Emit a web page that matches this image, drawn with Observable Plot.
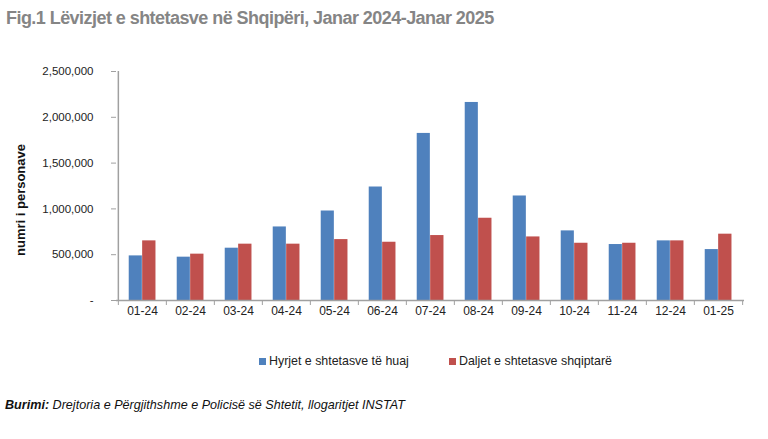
<!DOCTYPE html>
<html>
<head>
<meta charset="utf-8">
<script src="https://cdn.jsdelivr.net/npm/d3@7"></script>
<script src="https://cdn.jsdelivr.net/npm/@observablehq/plot@0.6"></script>
<style>
  html, body { margin: 0; padding: 0; background: #fff; }
  body { width: 768px; height: 439px; position: relative; overflow: hidden; font-family: "Liberation Sans", Arial, sans-serif; }
  #title { position: absolute; left: 6px; top: 8px; font-size: 18px; font-weight: bold; color: #858585; letter-spacing: -0.55px; white-space: nowrap; }
  #chart { position: absolute; left: 0; top: 50px; z-index: 1; }
  #ylabel { position: absolute; left: 20px; top: 200px; z-index: 2; transform: translate(-50%, -50%) rotate(-90deg); font-size: 13px; font-weight: bold; color: #111; white-space: nowrap; }
  #legend { position: absolute; top: 354px; left: 0; width: 768px; font-size: 12.4px; color: #222; }
  .item { position: absolute; white-space: nowrap; display: flex; align-items: center; }
  .sw { width: 7px; height: 7px; margin-right: 3px; }
  #caption { position: absolute; left: 5px; top: 398px; font-size: 12.6px; font-style: italic; color: #111; white-space: nowrap; }
</style>
</head>
<body>
<div id="title"></div>
<div id="ylabel"></div>
<div id="chart"></div>
<div id="legend"></div>
<div id="caption"><b>Burimi:</b> Drejtoria e Përgjithshme e Policisë së Shtetit, llogaritjet INSTAT</div>
<script>
// Monthly movements of citizens, January 2024 – January 2025
const titleText = "Fig.1 Lëvizjet e shtetasve në Shqipëri, Janar 2024-Janar 2025";
const yLabel = "numri i personave";
const months = ["01-24", "02-24", "03-24", "04-24", "05-24", "06-24", "07-24", "08-24", "09-24", "10-24", "11-24", "12-24", "01-25"];
const seriesNames = ["Hyrjet e shtetasve të huaj", "Daljet e shtetasve shqiptarë"];
const seriesColors = ["#4f81bd", "#c0504d"];
// entries of foreign citizens
const hyrjet = [487000, 473000, 571000, 803000, 977000, 1239000, 1824000, 2162000, 1141000, 760000, 611000, 651000, 556000];
// exits of Albanian citizens
const daljet = [651000, 506000, 615000, 615000, 665000, 636000, 709000, 898000, 694000, 625000, 625000, 651000, 724000];
const yTicks = [0, 500000, 1000000, 1500000, 2000000, 2500000];

document.getElementById("title").textContent = titleText;
document.getElementById("ylabel").textContent = yLabel;

const width = 768, height = 290;
const marginLeft = 116, marginRight = 24, marginTop = 21, marginBottom = 40;
const step = (width - marginLeft - marginRight) / months.length;
const axisColor = "#a0a0a0";

const rowsH = months.map((m, i) => ({month: m, series: seriesNames[0], value: hyrjet[i]}));
const rowsD = months.map((m, i) => ({month: m, series: seriesNames[1], value: daljet[i]}));

const fmt = d3.format(",");

const chart = Plot.plot({
  width, height, marginLeft, marginRight, marginTop, marginBottom,
  style: {fontFamily: "Liberation Sans, Arial, sans-serif", color: "#222", background: "transparent"},
  x: {domain: months, padding: 0, axis: null},
  y: {domain: [0, 2500000], axis: null},
  color: {domain: seriesNames, range: seriesColors},
  marks: [
    Plot.barY(rowsH, {x: "month", y: "value", fill: "series", insetLeft: step * 0.222, insetRight: step * 0.5}),
    Plot.barY(rowsD, {x: "month", y: "value", fill: "series", insetLeft: step * 0.5, insetRight: step * 0.218}),
    // y axis
    Plot.ruleX([months[0]], {x: d => d, y1: 0, y2: 2500000, dx: -step / 2, stroke: axisColor, strokeWidth: 1.5}),
    Plot.axisY({ticks: yTicks, tickSize: 5, tickPadding: 18, fontSize: 11.5, stroke: axisColor, fill: "#222",
      tickFormat: d => d === 0 ? "-" : fmt(d), label: null}),
    // x axis
    Plot.ruleY([0], {stroke: axisColor, strokeWidth: 1.5}),
    Plot.axisX({ticks: months, tickSize: 5, tickFormat: () => "", dx: -step / 2, stroke: axisColor, label: null}),
    Plot.axisX({ticks: [months[months.length - 1]], tickSize: 5, tickFormat: () => "", dx: step / 2, stroke: axisColor, label: null}),
    Plot.axisX({ticks: months, tickSize: 0, tickPadding: 6, fontSize: 12, fill: "#222", label: null})
  ]
});
document.getElementById("chart").appendChild(chart);

// legend
const legend = document.getElementById("legend");
const legendX = [259, 449];
seriesNames.forEach((name, i) => {
  const item = document.createElement("div");
  item.className = "item";
  item.style.left = legendX[i] + "px";
  const sw = document.createElement("span");
  sw.className = "sw";
  sw.style.background = seriesColors[i];
  const label = document.createElement("span");
  label.textContent = name;
  item.appendChild(sw);
  item.appendChild(label);
  legend.appendChild(item);
});
</script>
</body>
</html>
